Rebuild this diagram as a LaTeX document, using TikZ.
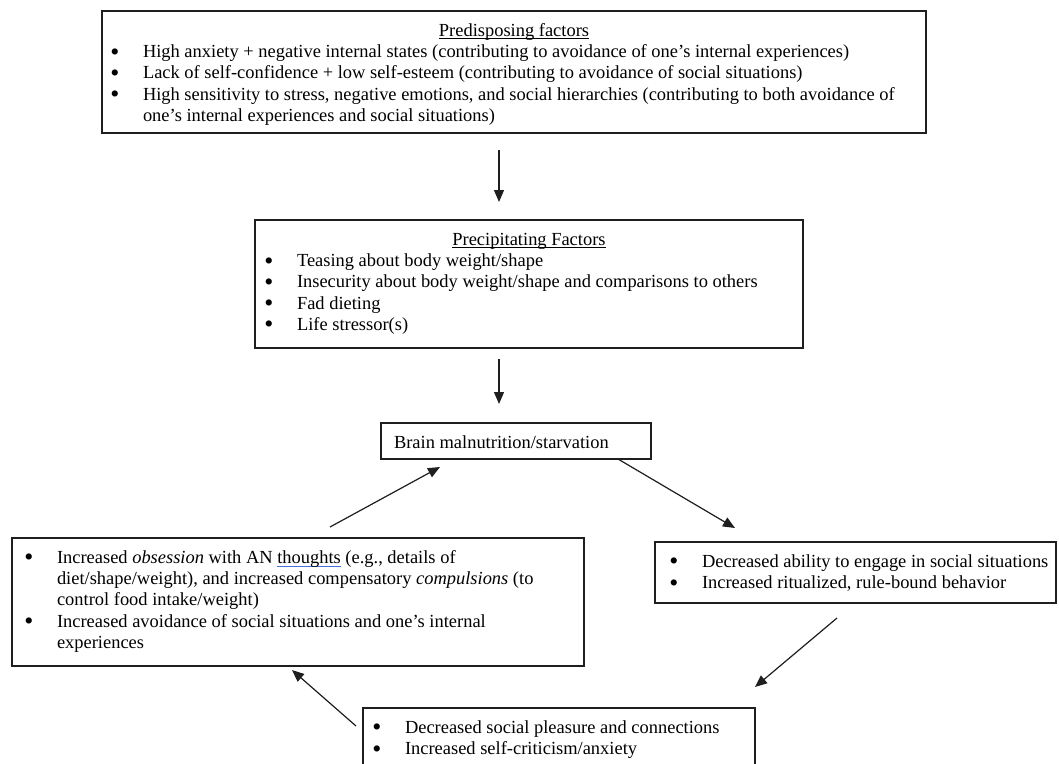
\documentclass[tikz,border=0pt]{standalone}
\usepackage{fontspec}
\usepackage{graphicx}
\setmainfont{Liberation Serif}
\usetikzlibrary{arrows.meta}
\definecolor{boxline}{gray}{0.12}
\definecolor{spellblue}{RGB}{70,110,220}
\newcommand\titleul[1]{\setbox0\hbox{#1}\rlap{\rule[-2.2pt]{\wd0}{0.9pt}}\box0\relax}
\newcommand\spellul[1]{\setbox0\hbox{#1}\rlap{\textcolor{spellblue}{\rule[-3.4pt]{\wd0}{1.1pt}}}\box0\relax}
\newcommand\bul{\llap{\makebox[0pt][c]{\smash{\raisebox{-2.4pt}{\scalebox{1.4}{\textbullet}}}}\hspace{28pt}}}
\newcommand\bi[1]{\bul\mbox{#1}}
\newcommand\ci[1]{\mbox{#1}}
\newcommand\boxbody[4]{\parbox[b][#2][t]{#1}{\fontsize{18.45pt}{21.2pt}\selectfont\lineskiplimit=-100pt\relax\leftskip=#3\relax\rightskip=0pt plus 1fil\relax\parfillskip=0pt plus 1fil\relax\rule{0pt}{25.5pt}#4}}
\tikzset{
  flowbox/.style={draw=boxline, line width=1.3pt, inner sep=0pt, outer sep=0pt, anchor=north west, fill=white},
  arr/.style={-{Triangle[length=12pt,width=10pt]}, line width=1.2pt, draw=boxline, fill=boxline}
}
\begin{document}
\begin{tikzpicture}[x=1pt,y=-1pt]
\fill[white] (0,0) rectangle (1059,763);
\clip (0,0) rectangle (1059,763);

\node[flowbox] (top) at (102,11) {\boxbody{824pt}{122pt}{41pt}{%
\hspace*{-41pt}\makebox[824pt][c]{\titleul{Predisposing factors}}\\
\bi{High anxiety + negative internal states (contributing to avoidance of one’s internal experiences)}\\
\bi{Lack of self-confidence + low self-esteem (contributing to avoidance of social situations)}\\
\bi{High sensitivity to stress, negative emotions, and social hierarchies (contributing to both avoidance of}\\
\ci{one’s internal experiences and social situations)}}};

\node[flowbox] (prec) at (255,220) {\boxbody{548pt}{128pt}{42pt}{%
\hspace*{-42pt}\makebox[548pt][c]{\titleul{Precipitating Factors}}\\
\bi{Teasing about body weight/shape}\\
\bi{Insecurity about body weight/shape and comparisons to others}\\
\bi{Fad dieting}\\
\bi{Life stressor(s)}}};

\node[flowbox] (brain) at (381,423) {\boxbody{270pt}{36pt}{13pt}{%
\ci{Brain malnutrition/starvation}}};

\node[flowbox] (obs) at (12,538) {\boxbody{572pt}{128pt}{45pt}{%
\bi{Increased \emph{obsession} with AN \spellul{thoughts} (e.g., details of}\\
\ci{diet/shape/weight), and increased compensatory \emph{compulsions} (to}\\
\ci{control food intake/weight)}\\
\bi{Increased avoidance of social situations and one’s internal}\\
\ci{experiences}}};

\node[flowbox] (dec) at (655,542) {\boxbody{401pt}{61pt}{47pt}{%
\bi{Decreased ability to engage in social situations}\\
\bi{Increased ritualized, rule-bound behavior}}};

\node[flowbox] (soc) at (363,708) {\boxbody{392pt}{60pt}{42pt}{%
\bi{Decreased social pleasure and connections}\\
\bi{Increased self-criticism/anxiety}}};

\draw[arr] ([xshift=-15pt,yshift=-17pt]top.south) -- ([xshift=-30pt,yshift=18pt]prec.north);
\draw[arr] ([xshift=-30pt,yshift=-11pt]prec.south) -- ([xshift=-17pt,yshift=19pt]brain.north);
\draw[arr] ([xshift=32pt,yshift=11pt]obs.north) -- ([xshift=-76pt,yshift=-8pt]brain.south);
\draw[arr] ([xshift=102pt]brain.south) -- ([xshift=-120.5pt,yshift=14pt]dec.north);
\draw[arr] ([xshift=-18.5pt,yshift=-15pt]dec.south) -- ([yshift=21pt]soc.north east);
\draw[arr] ([xshift=-7pt,yshift=12pt]soc.west) -- ([xshift=-6pt,yshift=-4pt]obs.south);
\end{tikzpicture}
\end{document}
